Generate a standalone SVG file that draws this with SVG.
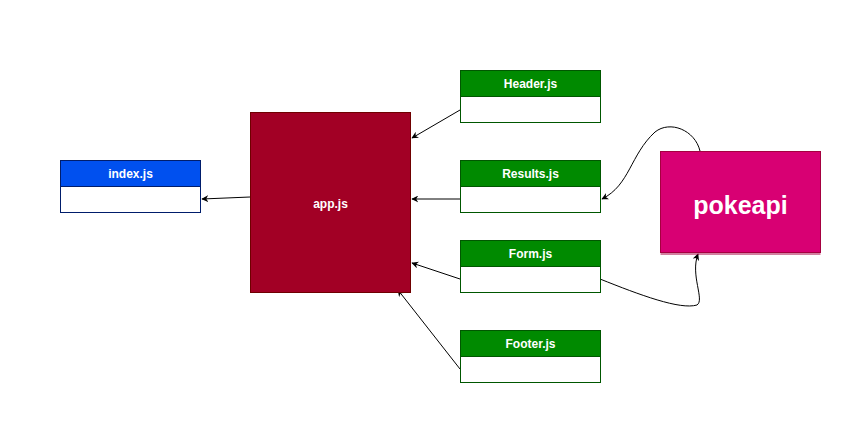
<svg xmlns="http://www.w3.org/2000/svg" width="849" height="428" viewBox="0 0 849 428">
<defs>
<style>
.lbl{font-family:"Liberation Sans",Arial,sans-serif;font-weight:bold;font-size:12px;fill:#ffffff;text-anchor:middle}
.g{fill:#008a00;stroke:#005700}
.gb{fill:#ffffff;stroke:#005700}
.c{fill:none;stroke:#000;stroke-width:1;marker-end:url(#ah)}
</style>
<marker id="ah" viewBox="0 0 10 10" refX="9" refY="5" markerWidth="7" markerHeight="7" orient="auto" markerUnits="userSpaceOnUse"><path d="M0,0 L10,5 L0,10 L3,5 Z" fill="#000"/></marker>
</defs>
<rect width="849" height="428" fill="#ffffff"/>
<g id="connectors">
<path class="c" d="M250,197 L202,199"/>
<path class="c" d="M460,110 L412,138"/>
<path class="c" d="M460,199 L412,199"/>
<path class="c" d="M460,279 L412,263"/>
<path class="c" d="M460,369 L398,290"/>
<path class="c" d="M700,151 C695,130 670,120 655,132 C630,155 630,185 602,199"/>
<path class="c" d="M600,279 C640,295 680,310 697,305 C705,300 690,275 698,254"/>
</g>
<g id="index">
<rect x="60.5" y="160.5" width="140" height="52" fill="#ffffff" stroke="#001d6b"/>
<rect x="60.5" y="160.5" width="140" height="26" fill="#0050ef" stroke="#001d6b"/>
<text class="lbl" x="130.5" y="178">index.js</text>
</g>
<g id="app">
<rect x="250.5" y="112.5" width="160" height="180" fill="#a20025" stroke="#6f0000"/>
<text class="lbl" x="330.5" y="208">app.js</text>
</g>
<g id="header">
<rect class="gb" x="460.5" y="70.5" width="140" height="52"/>
<rect class="g" x="460.5" y="70.5" width="140" height="26"/>
<text class="lbl" x="530.5" y="88">Header.js</text>
</g>
<g id="results">
<rect class="gb" x="460.5" y="160.5" width="140" height="52"/>
<rect class="g" x="460.5" y="160.5" width="140" height="26"/>
<text class="lbl" x="530.5" y="178">Results.js</text>
</g>
<g id="form">
<rect class="gb" x="460.5" y="240.5" width="140" height="52"/>
<rect class="g" x="460.5" y="240.5" width="140" height="26"/>
<text class="lbl" x="530.5" y="258">Form.js</text>
</g>
<g id="footer">
<rect class="gb" x="460.5" y="330.5" width="140" height="52"/>
<rect class="g" x="460.5" y="330.5" width="140" height="26"/>
<text class="lbl" x="530.5" y="348">Footer.js</text>
</g>
<g id="pokeapi">
<rect x="660.5" y="151.5" width="160" height="101" fill="#d80073" stroke="#a50040"/>
<line x1="660.5" y1="254" x2="820.5" y2="254" stroke="#a50040"/>
<text class="lbl" x="740.5" y="214" style="font-size:25px">pokeapi</text>
</g>
</svg>
